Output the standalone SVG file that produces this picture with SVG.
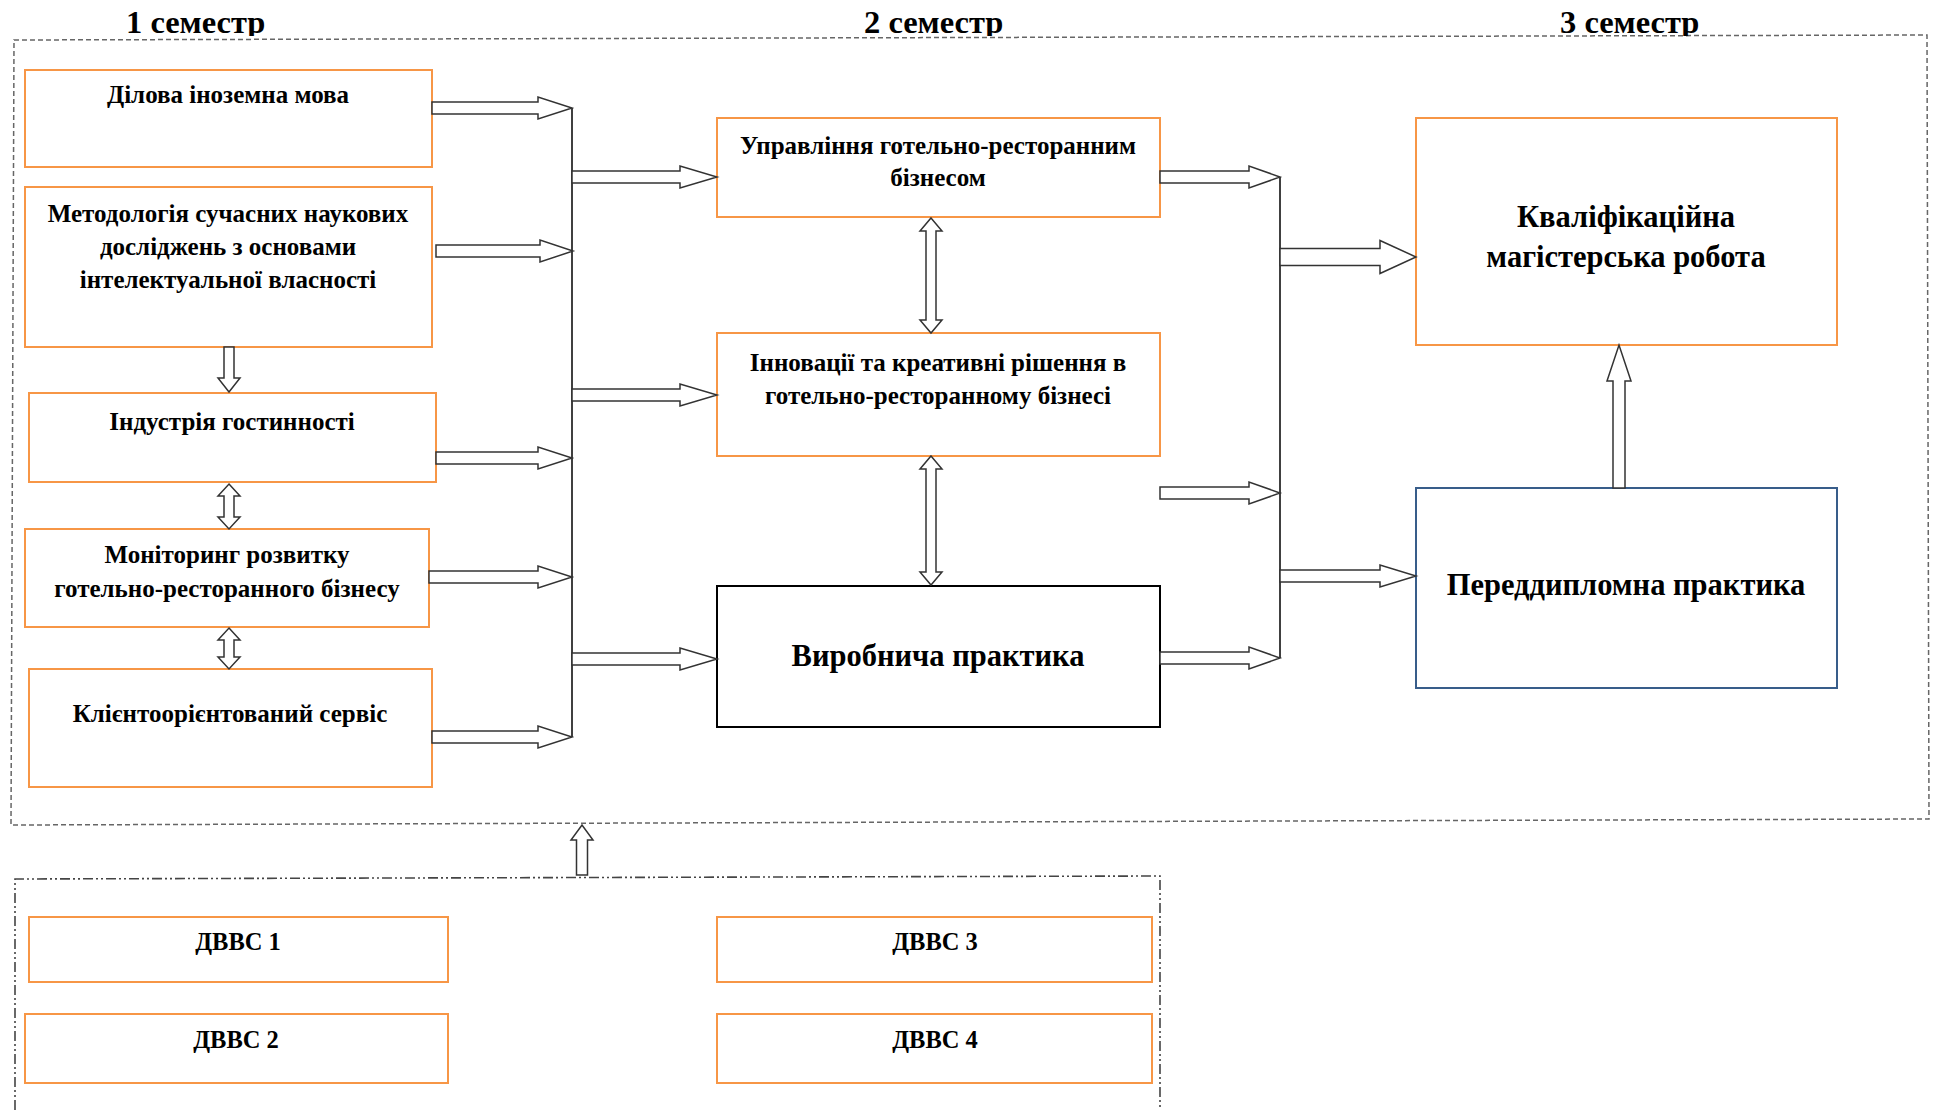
<svg xmlns="http://www.w3.org/2000/svg" width="1935" height="1110" viewBox="0 0 1935 1110">
<style>
.t{font-family:"Liberation Serif","Times New Roman",serif;font-weight:bold;fill:#000;text-anchor:middle}
.s{font-size:25px}
.d{font-size:24.5px}
.b{font-size:30.5px}
.h{font-size:32.5px;text-anchor:start}
.or{fill:#fff;stroke:#F79646;stroke-width:2}
.bk{fill:#fff;stroke:#000;stroke-width:2}
.bl{fill:#fff;stroke:#385D8A;stroke-width:2}
.ar{fill:#fff;stroke:#333;stroke-width:1.5;stroke-linejoin:miter}
.bus{stroke:#000;stroke-width:1.5;fill:none}
.dash{fill:none;stroke:#666;stroke-width:1.5;stroke-dasharray:5 3}
.dd{fill:none;stroke:#444;stroke-width:1.6;stroke-dasharray:10 3 2 3 2 3}
</style>
<defs>
<clipPath id="hdr"><rect x="0" y="0" width="1935" height="36"/></clipPath>
</defs>
<rect x="0" y="0" width="1935" height="1110" fill="#fff"/>

<g id="frames">
<path class="dash" d="M14,40 L1927,35 L1929,819 L11,825 Z"/>
<path class="dd" d="M15,1110 L15,879 L1160,876 L1160,1110"/>
</g>

<g id="headers" clip-path="url(#hdr)">
<text class="t h" x="126" y="33">1 семестр</text>
<text class="t h" x="864" y="33">2 семестр</text>
<text class="t h" x="1560" y="33">3 семестр</text>
</g>

<g id="n1"><rect class="or" x="25" y="70" width="407" height="97"/>
<text class="t s" x="228" y="103">Ділова іноземна мова</text></g>

<g id="n2"><rect class="or" x="25" y="187" width="407" height="160"/>
<text class="t s" x="228" y="222">Методологія сучасних наукових</text>
<text class="t s" x="228" y="255">досліджень з основами</text>
<text class="t s" x="228" y="288">інтелектуальної власності</text></g>

<g id="n3"><rect class="or" x="29" y="393" width="407" height="89"/>
<text class="t s" x="232" y="430">Індустрія гостинності</text></g>

<g id="n4"><rect class="or" x="25" y="529" width="404" height="98"/>
<text class="t s" x="227" y="563">Моніторинг розвитку</text>
<text class="t s" x="227" y="597">готельно-ресторанного бізнесу</text></g>

<g id="n5"><rect class="or" x="29" y="669" width="403" height="118"/>
<text class="t s" x="230" y="722">Клієнтоорієнтований сервіс</text></g>

<g id="n6"><rect class="or" x="717" y="118" width="443" height="99"/>
<text class="t s" x="938" y="154">Управління готельно-ресторанним</text>
<text class="t s" x="938" y="186">бізнесом</text></g>

<g id="n7"><rect class="or" x="717" y="333" width="443" height="123"/>
<text class="t s" x="938" y="371">Інновації та креативні рішення в</text>
<text class="t s" x="938" y="404">готельно-ресторанному бізнесі</text></g>

<g id="n8"><rect class="bk" x="717" y="586" width="443" height="141"/>
<text class="t b" x="938" y="666">Виробнича практика</text></g>

<g id="n9"><rect class="or" x="1416" y="118" width="421" height="227"/>
<text class="t b" x="1626" y="227">Кваліфікаційна</text>
<text class="t b" x="1626" y="267">магістерська робота</text></g>

<g id="n10"><rect class="bl" x="1416" y="488" width="421" height="200"/>
<text class="t b" x="1626" y="595">Переддипломна практика</text></g>

<g id="n11"><rect class="or" x="29" y="917" width="419" height="65"/>
<text class="t d" x="238" y="950">ДВВС 1</text></g>
<g id="n12"><rect class="or" x="25" y="1014" width="423" height="69"/>
<text class="t d" x="236" y="1048">ДВВС 2</text></g>
<g id="n13"><rect class="or" x="717" y="917" width="435" height="65"/>
<text class="t d" x="935" y="950">ДВВС 3</text></g>
<g id="n14"><rect class="or" x="717" y="1014" width="435" height="69"/>
<text class="t d" x="935" y="1048">ДВВС 4</text></g>

<g id="connectors">
<line class="bus" x1="572" y1="108" x2="572" y2="737"/>
<line class="bus" x1="1280" y1="177" x2="1280" y2="658"/>
<path class="ar" d="M432,102 L538,102 L538,97 L572,108 L538,119 L538,114 L432,114 Z"/>
<path class="ar" d="M436,245 L540,245 L540,240 L573,251 L540,262 L540,257 L436,257 Z"/>
<path class="ar" d="M436,452 L538,452 L538,447 L572,458 L538,469 L538,464 L436,464 Z"/>
<path class="ar" d="M429,571 L538,571 L538,566 L572,577 L538,588 L538,583 L429,583 Z"/>
<path class="ar" d="M432,731 L538,731 L538,726 L572,737 L538,748 L538,743 L432,743 Z"/>
<path class="ar" d="M572,171 L680,171 L680,166 L717,177 L680,188 L680,183 L572,183 Z"/>
<path class="ar" d="M572,389 L680,389 L680,384 L717,395 L680,406 L680,401 L572,401 Z"/>
<path class="ar" d="M572,653 L680,653 L680,648 L717,659 L680,670 L680,665 L572,665 Z"/>
<path class="ar" d="M1160,171 L1249,171 L1249,166 L1280,177 L1249,188 L1249,183 L1160,183 Z"/>
<path class="ar" d="M1160,487 L1249,487 L1249,482 L1280,493 L1249,504 L1249,499 L1160,499 Z"/>
<path class="ar" d="M1160,652 L1249,652 L1249,647 L1280,658 L1249,669 L1249,664 L1160,664 Z"/>
<path class="ar" d="M1280,248.5 L1380,248.5 L1380,240.5 L1416,257 L1380,273.5 L1380,265.5 L1280,265.5 Z"/>
<path class="ar" d="M1280,570 L1380,570 L1380,565 L1416,576 L1380,587 L1380,582 L1280,582 Z"/>
<path class="ar" d="M224,347 L224,378 L218,378 L229,392 L240,378 L234,378 L234,347 Z"/>
<path class="ar" d="M229,484 L240,496 L234,496 L234,517 L240,517 L229,529 L218,517 L224,517 L224,496 L218,496 Z"/>
<path class="ar" d="M229,628 L240,640 L234,640 L234,657 L240,657 L229,669 L218,657 L224,657 L224,640 L218,640 Z"/>
<path class="ar" d="M931,218 L942,231 L936,231 L936,320 L942,320 L931,333 L920,320 L926,320 L926,231 L920,231 Z"/>
<path class="ar" d="M931,456 L942,469 L936,469 L936,572 L942,572 L931,585 L920,572 L926,572 L926,469 L920,469 Z"/>
<path class="ar" d="M1613,488 L1613,381 L1607,381 L1619,345 L1631,381 L1625,381 L1625,488 Z"/>
<path class="ar" d="M576.5,875 L576.5,840 L571,840 L582,825 L593,840 L587.5,840 L587.5,875 Z"/>
</g>
</svg>
